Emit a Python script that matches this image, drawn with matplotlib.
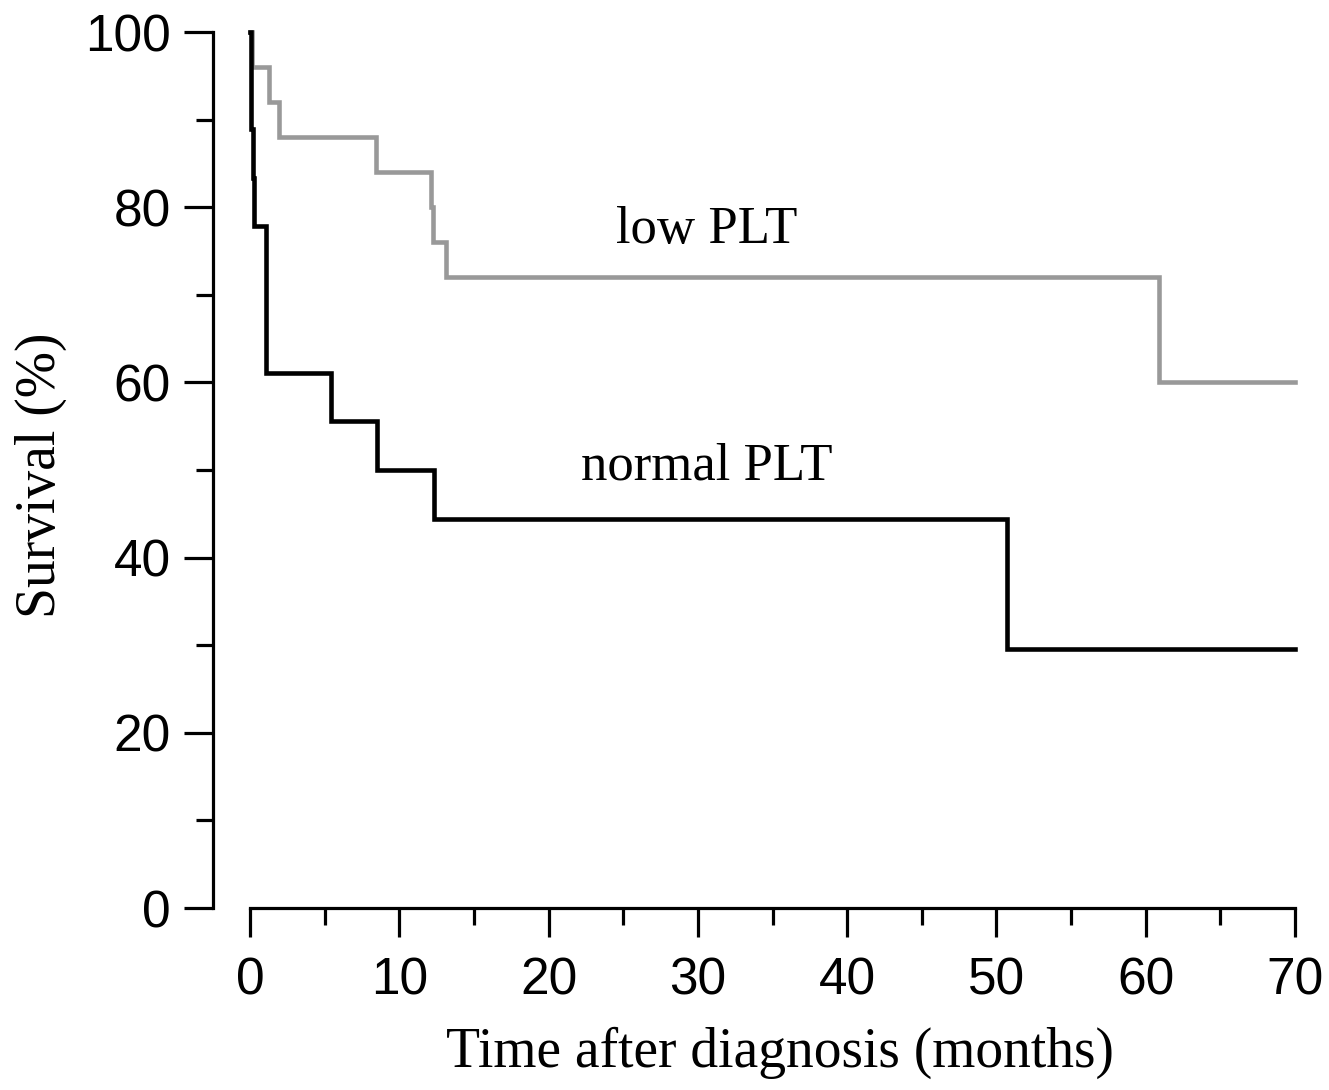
#!/usr/bin/env python3

import matplotlib
matplotlib.use('Agg')
import matplotlib.pyplot as plt
from matplotlib.ticker import MultipleLocator

# Kaplan-Meier steps
low_t = [0, 0.15, 1.25, 1.95, 8.45, 12.15, 12.25, 13.1, 60.9, 70]
low_s = [100, 96, 92, 88, 84, 80, 76, 72, 60, 60]

normal_t = [0, 0.05, 0.2, 0.25, 1.1, 5.4, 8.5, 12.3, 50.7, 70]
normal_s = [100, 88.9, 83.3, 77.8, 61.1, 55.6, 50.0, 44.4, 29.6, 29.6]

x_ticks = [0, 10, 20, 30, 40, 50, 60, 70]
y_ticks = [0, 20, 40, 60, 80, 100]

labels = ["low PLT", "normal PLT"]
label_pos = [(30.6, 75.9), (30.6, 48.9)]

serif = 'Liberation Serif'
sans = 'Liberation Sans'


def main():
    fig = plt.figure(figsize=(13.29, 10.9), dpi=100)
    ax = fig.add_axes([250 / 1329, 182 / 1090, 1045 / 1329, 876 / 1090])

    ax.step(low_t, low_s, where='post', color='#999999', lw=3.3,
            solid_joinstyle='miter', clip_on=False)
    ax.step(normal_t, normal_s, where='post', color='black', lw=3.3,
            solid_joinstyle='miter', clip_on=False)

    for txt, (x, y) in zip(labels, label_pos):
        ax.text(x, y, txt, ha='center', va='baseline', fontsize=38, family=serif)

    ax.set_xlim(0, 70)
    ax.set_ylim(0, 100)

    # axis styling: open axes, y spine pushed left
    ax.spines['top'].set_visible(False)
    ax.spines['right'].set_visible(False)
    ax.spines['left'].set_position(('outward', 27))
    for s in ('left', 'bottom'):
        ax.spines[s].set_linewidth(2.3)
    ax.spines['left'].set_bounds(0, 100)
    ax.spines['bottom'].set_bounds(0, 70)

    ax.set_xticks(x_ticks)
    ax.set_yticks(y_ticks)
    ax.xaxis.set_minor_locator(MultipleLocator(5))
    ax.yaxis.set_minor_locator(MultipleLocator(10))
    ax.tick_params(which='major', length=21, width=2.3, direction='out')
    ax.tick_params(which='minor', length=12.5, width=2.3, direction='out')
    ax.tick_params(axis='x', which='major', pad=14)
    ax.tick_params(axis='y', which='major', pad=9)
    for lab in ax.get_xticklabels() + ax.get_yticklabels():
        lab.set_fontfamily(sans)
        lab.set_fontsize(37)

    ax.set_xlabel("Time after diagnosis (months)", fontsize=40, family=serif)
    ax.set_ylabel("Survival (%)", fontsize=40, family=serif)
    ax.xaxis.set_label_coords(0.507, -0.135)
    ax.yaxis.set_label_coords(-0.175, 0.494)

    fig.savefig('out.png', dpi=100)


if __name__ == '__main__':
    main()
